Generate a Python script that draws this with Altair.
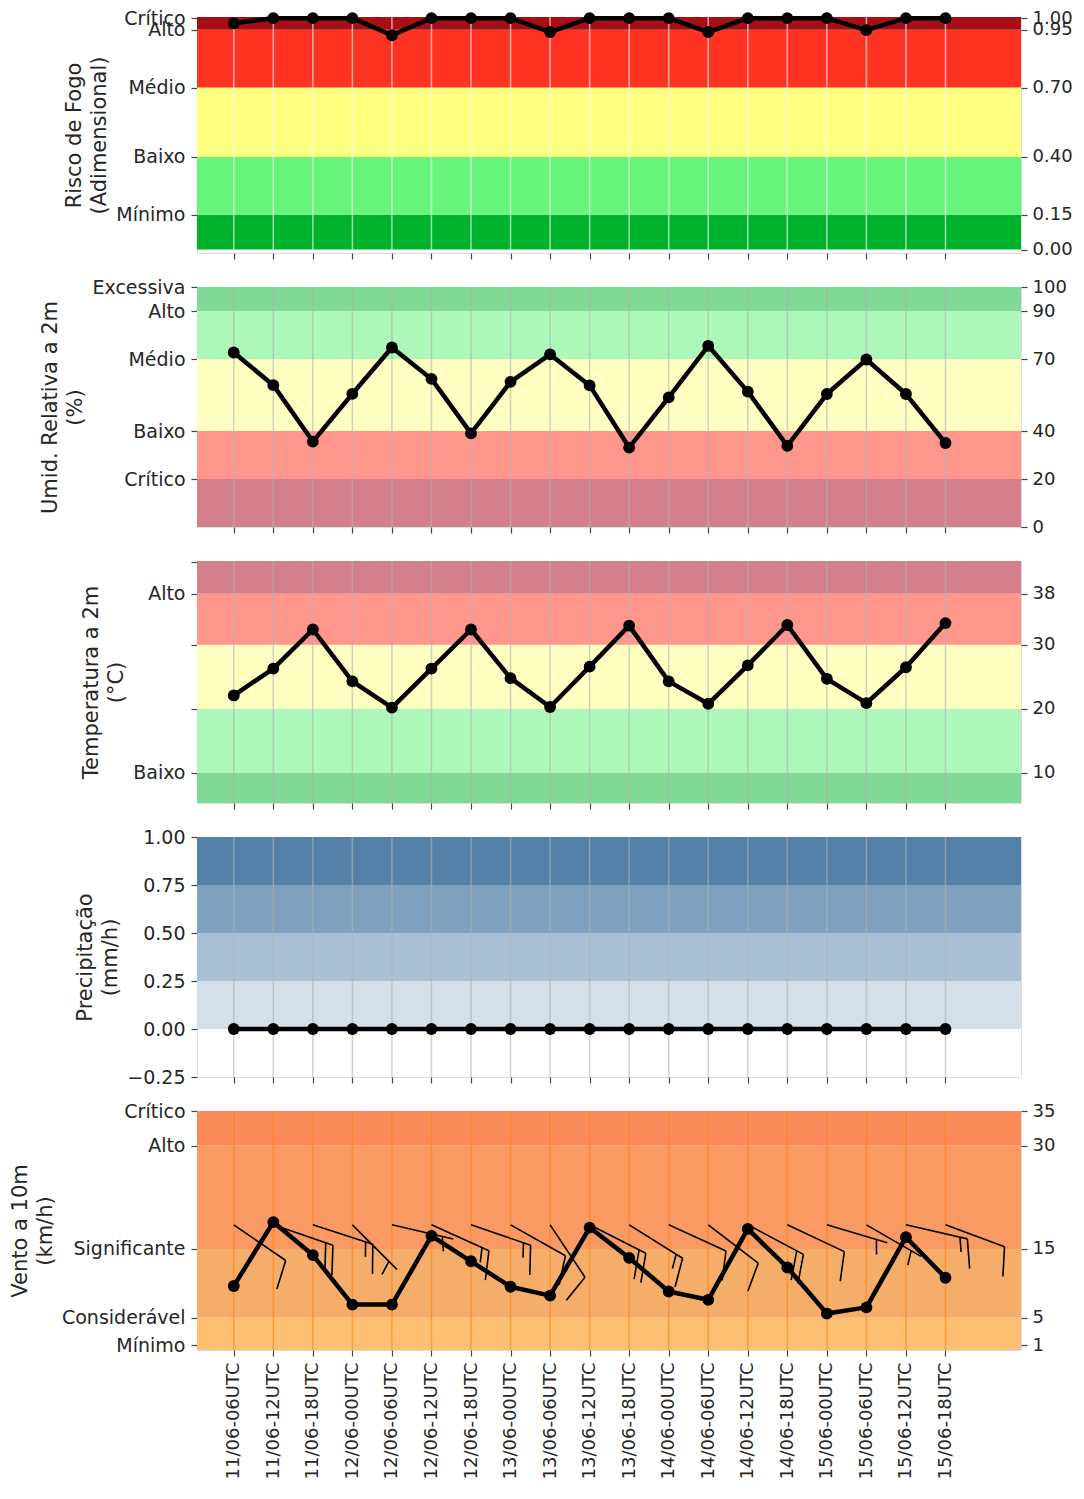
import json
import altair as alt
import pandas as pd

# ---------------- data ----------------
labels = ["11/06-06UTC", "11/06-12UTC", "11/06-18UTC", "12/06-00UTC", "12/06-06UTC",
          "12/06-12UTC", "12/06-18UTC", "13/06-00UTC", "13/06-06UTC", "13/06-12UTC",
          "13/06-18UTC", "14/06-00UTC", "14/06-06UTC", "14/06-12UTC", "14/06-18UTC",
          "15/06-00UTC", "15/06-06UTC", "15/06-12UTC", "15/06-18UTC"]

risco = [0.978, 1.0, 1.0, 1.0, 0.926, 1.0, 1.0, 1.0, 0.94, 1.0,
         1.0, 1.0, 0.94, 1.0, 1.0, 1.0, 0.948, 1.0, 1.0]
umid = [72.7, 59.1, 35.6, 55.5, 74.8, 61.7, 39.0, 60.5, 71.9, 59.0,
        33.1, 54.0, 75.5, 56.4, 33.8, 55.4, 69.8, 55.4, 35.0]
temp = [22.1, 26.3, 32.4, 24.3, 20.2, 26.3, 32.4, 24.8, 20.3, 26.6,
        33.0, 24.3, 20.8, 26.8, 33.1, 24.7, 20.9, 26.5, 33.4]
precip = [0.0, 0.0, 0.0, 0.0, 0.0, 0.0, 0.0, 0.0, 0.0, 0.0,
          0.0, 0.0, 0.0, 0.0, 0.0, 0.0, 0.0, 0.0, 0.0]
vento = [9.6, 18.9, 14.1, 6.9, 6.9, 16.9, 13.2, 9.5, 8.2, 18.1,
         13.7, 8.8, 7.6, 17.9, 12.3, 5.6, 6.5, 16.7, 10.8]
# wind barb staff direction on screen (degrees, clockwise from +x)
vento_dir = [34.5, 19, 17.9, 45, 13, 24.2, 18.9, 29.4, 56.3, 26.9,
             32, 24.6, 37.5, 28, 25.2, 16.6, 30, 12.9, 20.4]

# category thresholds / band limits (bottom -> top) and colours
risco_lo = [0.0, 0.15, 0.40, 0.70, 0.95]
risco_hi = [0.15, 0.40, 0.70, 0.95, 1.10]
risco_col = ["#00b32c", "#66f57a", "#ffff80", "#ff3322", "#a50f15"]
risco_ticks = [1.0, 0.95, 0.70, 0.40, 0.15]
risco_names = ["Crítico", "Alto", "Médio", "Baixo", "Mínimo"]
risco_right = [1.0, 0.95, 0.70, 0.40, 0.15, 0.0]

umid_lo = [0, 20, 40, 70, 90]
umid_hi = [20, 40, 70, 90, 100]
umid_col = ["#d4808a", "#ff968c", "#ffffc2", "#aef7bb", "#80d997"]
umid_ticks = [100, 90, 70, 40, 20]
umid_names = ["Excessiva", "Alto", "Médio", "Baixo", "Crítico"]
umid_right = [100, 90, 70, 40, 20, 0]

temp_lo = [0, 10, 20, 30, 38]
temp_hi = [10, 20, 30, 38, 50]
temp_col = ["#80d997", "#aef7bb", "#ffffc2", "#ff968c", "#d4808a"]
temp_ticks = [43, 38, 30, 20, 10]
temp_names = ["", "Alto", "", "", "Baixo"]
temp_right = [38, 30, 20, 10]

precip_lo = [0.0, 0.25, 0.50, 0.75]
precip_hi = [0.25, 0.50, 0.75, 1.0]
precip_col = ["#d4dfea", "#a9c0d4", "#7fa1bf", "#5581a8"]
precip_ticks = [1.0, 0.75, 0.50, 0.25, 0.0, -0.25]

vento_lo = [0, 5, 15, 30]
vento_hi = [5, 15, 30, 40]
vento_col = ["#fdbf72", "#f4ae69", "#f99a62", "#fc8b5c"]
vento_ticks = [35, 30, 15, 5, 1]
vento_names = ["Crítico", "Alto", "Significante", "Considerável", "Mínimo"]
vento_right = [35, 30, 15, 5, 1]

BARB_Y = 18.5

# ---------------- helpers ----------------
N = len(labels)
idx = list(range(N))
X_DOMAIN = [-0.93, 19.91]
WIDTH = 824
FONT = "DejaVu Sans"

xscale = alt.Scale(domain=X_DOMAIN, nice=False, zero=False)
label_js = json.dumps(labels)


def x_axis(bottom):
    if bottom:
        return alt.Axis(values=idx, labelExpr=f"{label_js}[datum.value]",
                        labelAngle=-90, labelFlush=False, labelOverlap=False,
                        labelFontSize=18, ticks=True, tickSize=6, labelPadding=6,
                        title=None, grid=False, domain=False)
    return alt.Axis(values=idx, labels=False, ticks=True, tickSize=6,
                    title=None, grid=False, domain=False)


def left_axis(vals, names, title, fmt=None):
    kw = dict(values=vals, orient="left", title=title, labelOverlap=False,
              tickSize=6, domain=False, grid=False)
    if names is not None:
        kw["labelExpr"] = f"{json.dumps(names)}[indexof({json.dumps(vals)}, datum.value)]"
    else:
        kw["format"] = fmt
    return alt.Axis(**kw)


def right_axis(vals, fmt):
    return alt.Axis(values=vals, orient="right", title=None, format=fmt,
                    labelFontSize=18, labelPadding=5,
                    labelOverlap=False, tickSize=6, domain=False, grid=False)


H, Wf, S = 0.45, 0.14, 0.12


def barb_path(speed):
    r = 5 * int(speed / 5 + 0.5)
    n_full = r // 10
    half = (r % 10) >= 5
    parts = ["M0,0L1,0"]
    pos = 1.0
    for _ in range(n_full):
        parts.append(f"M{pos:.3f},0L{pos + Wf:.3f},{H:.3f}")
        pos -= S
    if half:
        if n_full == 0:
            pos -= 1.5 * S
        parts.append(f"M{pos:.3f},0L{pos + Wf / 2:.3f},{H / 2:.3f}")
    return "".join(parts)


def panel(values, lo, hi, cols, domain, height, lvals, lnames, title,
          rvals, rfmt, grid_color, grid_opacity, bottom=False, lfmt=None,
          barbs=False):
    yscale = alt.Scale(domain=domain, nice=False, zero=False)
    xa = x_axis(bottom)
    bands = pd.DataFrame({"lo": lo, "hi": hi, "c": cols})
    series = pd.DataFrame({"i": idx, "v": values})

    band_layer = alt.Chart(bands).mark_rect(clip=True).encode(
        x=alt.value(0), x2=alt.value("width"),
        y=alt.Y("lo:Q", scale=yscale, axis=left_axis(lvals, lnames, title, lfmt)),
        y2="hi:Q",
        color=alt.Color("c:N", scale=None),
    )
    grid_layer = alt.Chart(series).mark_rule(
        color=grid_color, opacity=grid_opacity, strokeWidth=1.5).encode(
        x=alt.X("i:Q", scale=xscale, axis=xa),
        y=alt.value(0), y2=alt.value("height"),
    )
    line_layer = alt.Chart(series).mark_line(
        color="black", strokeWidth=4.5, strokeJoin="round").encode(
        x=alt.X("i:Q", scale=xscale, axis=xa),
        y=alt.Y("v:Q", scale=yscale,
                axis=right_axis(rvals, rfmt) if rvals is not None else None),
    )
    pt_layer = alt.Chart(series).mark_circle(size=140, color="black", opacity=1).encode(
        x=alt.X("i:Q", scale=xscale, axis=xa),
        y=alt.Y("v:Q", scale=yscale, axis=None),
    )
    layers = [band_layer, grid_layer, line_layer, pt_layer]
    if barbs:
        bdf = pd.DataFrame({
            "i": idx,
            "by": [BARB_Y] * N,
            "ang": vento_dir,
            "shp": [barb_path(v) for v in values],
        })
        barb_layer = alt.Chart(bdf).mark_point(
            filled=False, color="black", strokeWidth=1.6, size=(2 * 63) ** 2,
            opacity=1).encode(
            x=alt.X("i:Q", scale=xscale, axis=xa),
            y=alt.Y("by:Q", scale=yscale, axis=None),
            shape=alt.Shape("shp:N", scale=None),
            angle=alt.Angle("ang:Q", scale=None),
        )
        layers.append(barb_layer)
    return alt.layer(*layers).resolve_axis(y="independent").properties(
        width=WIDTH, height=height)


p1 = panel(risco, risco_lo, risco_hi, risco_col, [-0.015, 1.005], 236,
           risco_ticks, risco_names, ["Risco de Fogo", "(Adimensional)"],
           risco_right, ".2f", "#ffffff", 0.6)
p2 = panel(umid, umid_lo, umid_hi, umid_col, [0, 100], 240,
           umid_ticks, umid_names, ["Umid. Relativa a 2m", "(%)"],
           umid_right, "d", "#b0b0b0", 0.6)
p3 = panel(temp, temp_lo, temp_hi, temp_col, [5.3, 43.1], 242,
           temp_ticks, temp_names, ["Temperatura a 2m", "(°C)"],
           temp_right, "d", "#b0b0b0", 0.6)
p4 = panel(precip, precip_lo, precip_hi, precip_col, [-0.25, 1.0], 240,
           precip_ticks, None, ["Precipitação", "(mm/h)"],
           None, None, "#b0b0b0", 0.6, lfmt=".2f")
p5 = panel(vento, vento_lo, vento_hi, vento_col, [0.3, 35.05], 239,
           vento_ticks, vento_names, ["Vento a 10m", "(km/h)"],
           vento_right, "d", "#ff7f0e", 0.55, bottom=True, barbs=True)

chart = alt.vconcat(p1, p2, p3, p4, p5, spacing=34, bounds="flush").properties(
    padding={"left": 0, "top": 0, "right": 0, "bottom": 0}
).configure_view(
    stroke="#dddddd", strokeWidth=1
).configure_axis(
    labelFont=FONT, titleFont=FONT, labelFontSize=19, titleFontSize=21,
    labelColor="#262626", titleColor="#262626", tickColor="#444444",
    tickWidth=1.2, titleFontWeight="normal", labelPadding=6, titlePadding=6,
    titleLineHeight=25,
)

chart.save("out.html", embed_options={"renderer": "svg", "actions": False})
